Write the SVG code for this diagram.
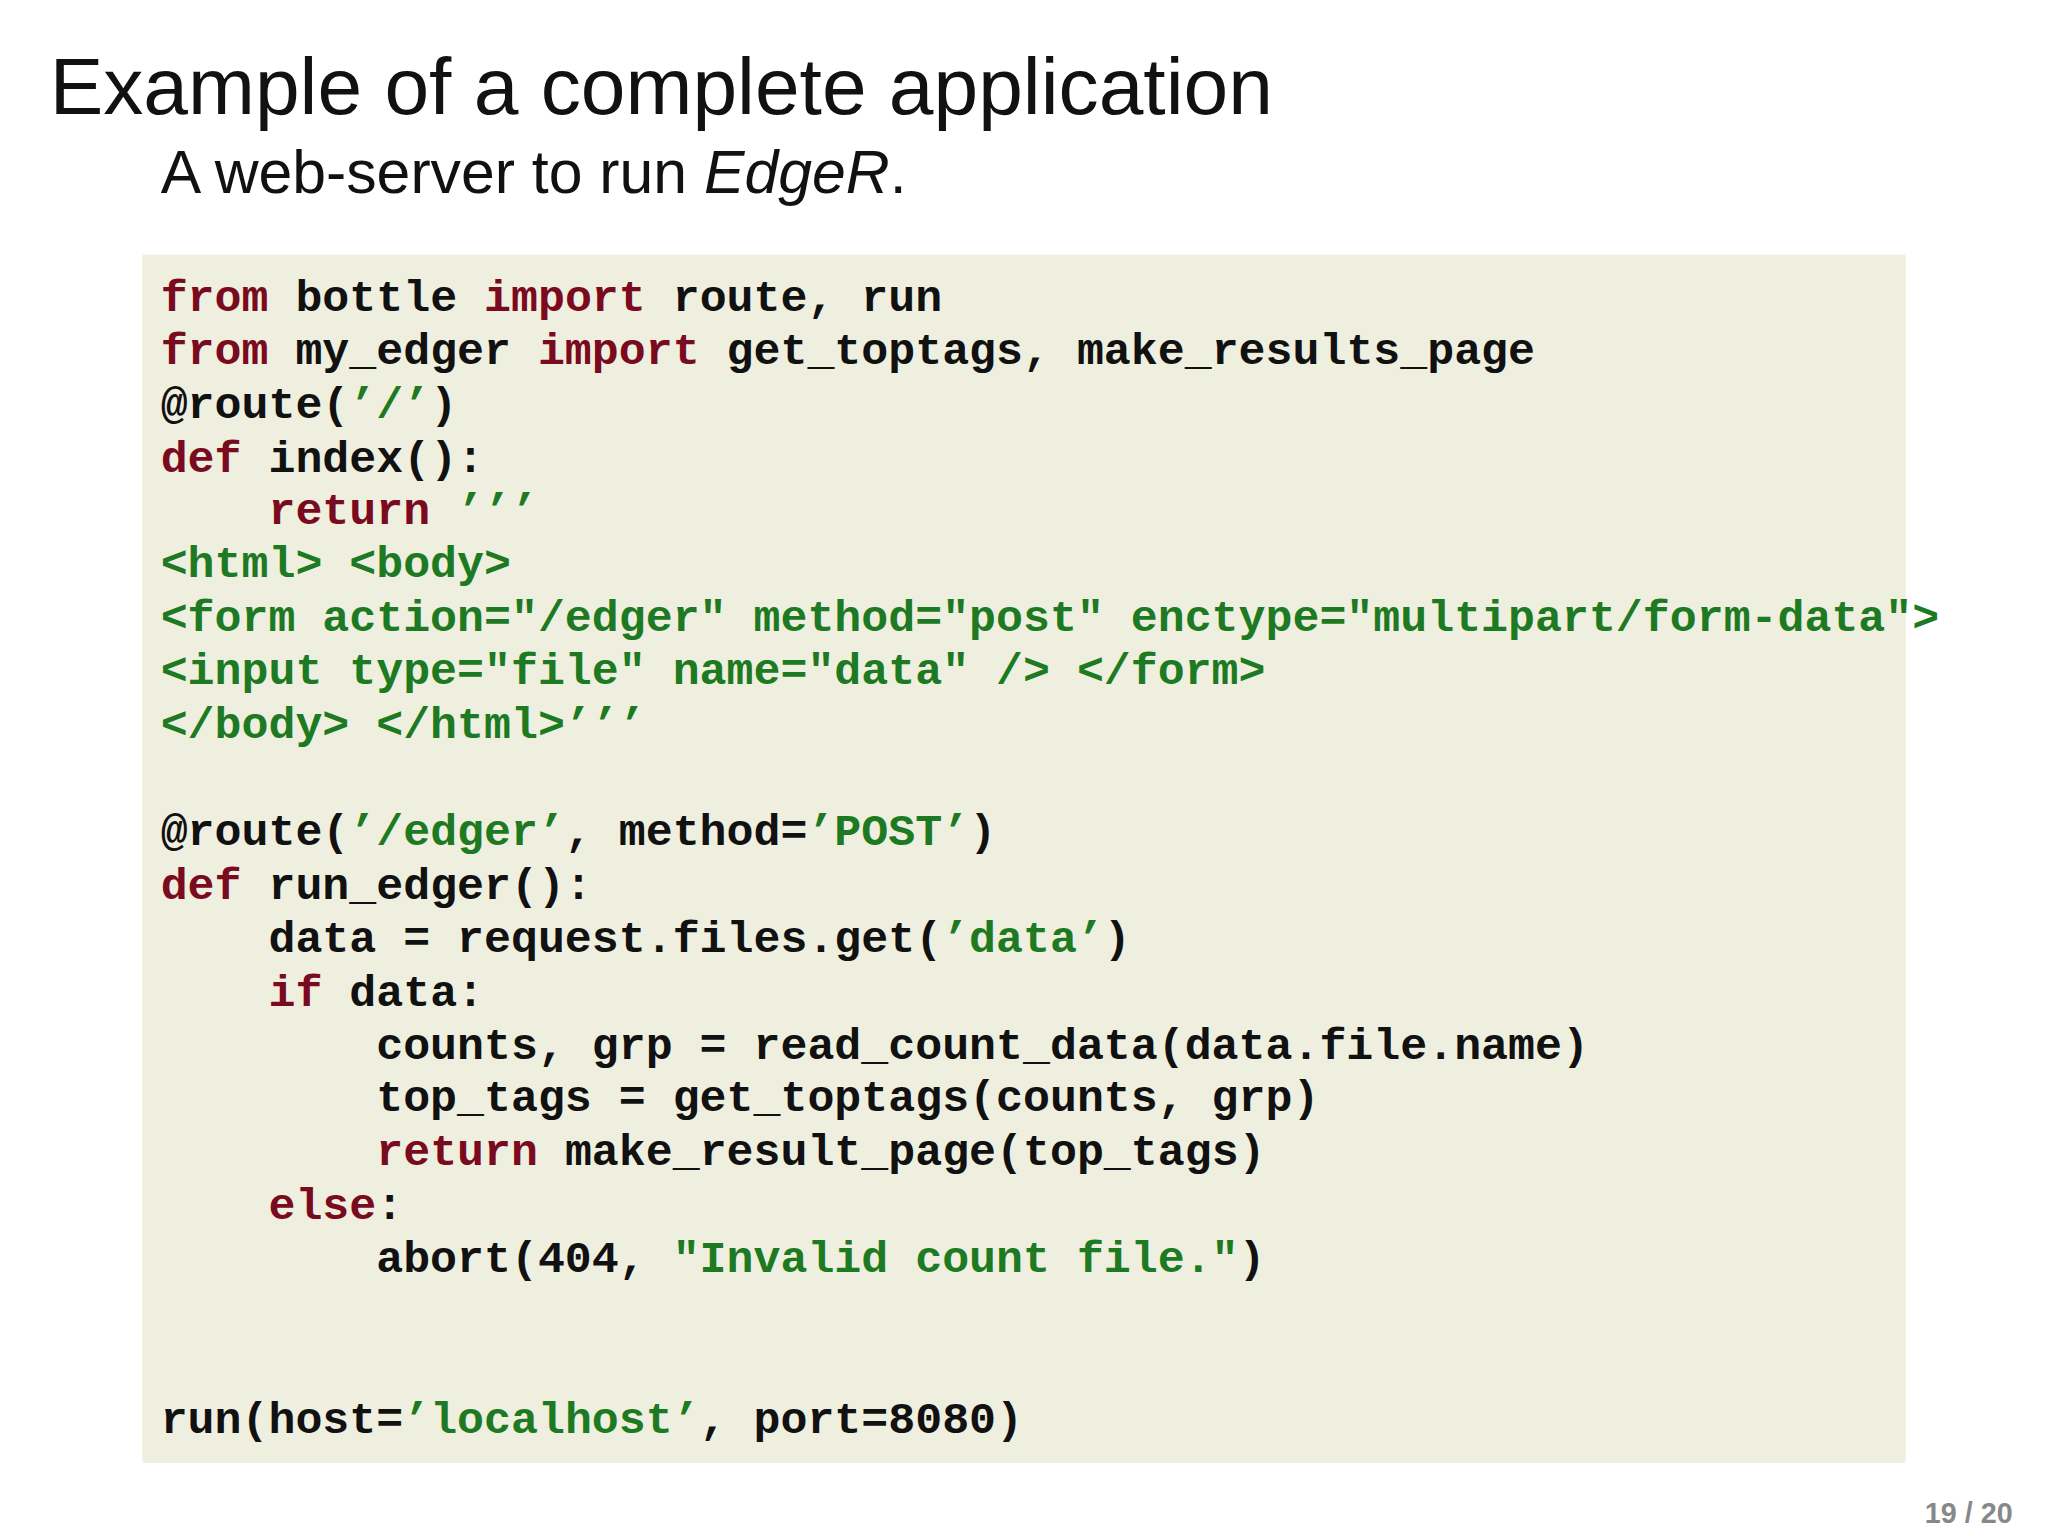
<svg xmlns="http://www.w3.org/2000/svg" width="2048" height="1536" viewBox="0 0 2048 1536">
<style>
.c{font-family:"Liberation Mono","DejaVu Sans Mono",monospace;font-size:34.4px;font-weight:bold;fill:#111;white-space:pre}
.k{fill:#7a0a1e}.s{fill:#1e7a22}
</style>
<rect width="2048" height="1536" fill="#fff"/>
<g transform="scale(1.3061)">
<text x="38" y="87" font-family="Liberation Sans,Arial,sans-serif" font-size="61.5" fill="#111">Example of a complete application</text>
<text x="123" y="148" font-family="Liberation Sans,Arial,sans-serif" font-size="46.5" fill="#111">A web-server to run <tspan font-style="italic">EdgeR</tspan>.</text>
<rect x="109" y="195" width="1350" height="925" fill="#efefdf"/>
<g xml:space="preserve">
<text class="c" x="123" y="238"><tspan class="k">from</tspan> bottle <tspan class="k">import</tspan> route, run</text>
<text class="c" x="123" y="279"><tspan class="k">from</tspan> my_edger <tspan class="k">import</tspan> get_toptags, make_results_page</text>
<text class="c" x="123" y="320">@route(<tspan class="s">’/’</tspan>)</text>
<text class="c" x="123" y="361"><tspan class="k">def</tspan> index():</text>
<text class="c" x="123" y="401">    <tspan class="k">return</tspan> <tspan class="s">’’’</tspan></text>
<text class="c s" x="123" y="442">&lt;html&gt; &lt;body&gt;</text>
<text class="c s" x="123" y="483">&lt;form action="/edger" method="post" enctype="multipart/form-data"&gt;</text>
<text class="c s" x="123" y="524">&lt;input type="file" name="data" /&gt; &lt;/form&gt;</text>
<text class="c s" x="123" y="565">&lt;/body&gt; &lt;/html&gt;’’’</text>
<text class="c" x="123" y="647">@route(<tspan class="s">’/edger’</tspan>, method=<tspan class="s">’POST’</tspan>)</text>
<text class="c" x="123" y="688"><tspan class="k">def</tspan> run_edger():</text>
<text class="c" x="123" y="729">    data = request.files.get(<tspan class="s">’data’</tspan>)</text>
<text class="c" x="123" y="770">    <tspan class="k">if</tspan> data:</text>
<text class="c" x="123" y="811">        counts, grp = read_count_data(data.file.name)</text>
<text class="c" x="123" y="851">        top_tags = get_toptags(counts, grp)</text>
<text class="c" x="123" y="892">        <tspan class="k">return</tspan> make_result_page(top_tags)</text>
<text class="c" x="123" y="933">    <tspan class="k">else</tspan>:</text>
<text class="c" x="123" y="974">        abort(404, <tspan class="s">"Invalid count file."</tspan>)</text>
<text class="c" x="123" y="1097">run(host=<tspan class="s">’localhost’</tspan>, port=8080)</text>
</g>
<text x="1541" y="1166" text-anchor="end" font-family="Liberation Sans,Arial,sans-serif" font-size="22" font-weight="bold" fill="#888">19 / 20</text>
</g>
</svg>
